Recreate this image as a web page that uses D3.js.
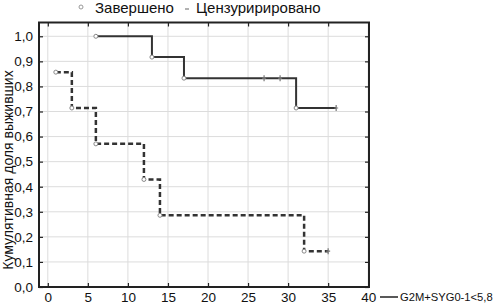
<!DOCTYPE html>
<html>
<head>
<meta charset="utf-8">
<script src="https://cdn.jsdelivr.net/npm/d3@7"></script>
<style>
  body { margin: 0; background: #fff; }
  svg { font-family: "Liberation Sans", Arial, sans-serif; }
</style>
</head>
<body>
<svg id="chart"></svg>
<script>
// survival curves (time in months, cumulative share)
const solidTimes  = [6, 13, 17, 31, 36]
const solidValues = [1.0, 0.917, 0.833, 0.714, 0.714]
const solidEvents = [[6, 1.0], [13, 0.917], [17, 0.833], [31, 0.714]]
const solidCensor = [[27, 0.833], [29, 0.833], [36, 0.714]]

const dashTimes  = [1, 3, 6, 12, 14, 32, 35]
const dashValues = [0.857, 0.714, 0.571, 0.429, 0.286, 0.143, 0.143]
const dashEvents = [[1, 0.857], [3, 0.714], [6, 0.571], [12, 0.429], [14, 0.286], [32, 0.143]]
const dashCensor = [[35, 0.143]]

const xTicks = [0, 5, 10, 15, 20, 25, 30, 35, 40]
const yTicks = [0, 0.1, 0.2, 0.3, 0.4, 0.5, 0.6, 0.7, 0.8, 0.9, 1.0]
const legendItems = ["Завершено", "Цензуририровано"]
const seriesLabel = "G2M+SYG0-1<5,8"
const yTitle = "Кумулятивная доля выживших"

function draw(){
    const width = 494, height = 305
    const svg = d3.select("#chart").attr("width", width).attr("height", height)

    const x = d3.scaleLinear().domain([-1.1, 40.1]).range([39, 369])
    const y = d3.scaleLinear().domain([0, 1.055]).range([287, 22.5])

    const fmt = d => d.toFixed(1).replace(".", ",")

    // grid
    const grid = svg.append("g").attr("stroke", "#dcdcdc").attr("stroke-width", 1)
    grid.selectAll("line.v").data(xTicks).enter().append("line")
        .attr("x1", d => x(d)).attr("x2", d => x(d))
        .attr("y1", y.range()[1]).attr("y2", y.range()[0])
    grid.selectAll("line.h").data(yTicks).enter().append("line")
        .attr("x1", x.range()[0]).attr("x2", x.range()[1])
        .attr("y1", d => y(d)).attr("y2", d => y(d))

    // frame
    svg.append("rect")
        .attr("x", x.range()[0]).attr("y", y.range()[1])
        .attr("width", x.range()[1] - x.range()[0])
        .attr("height", y.range()[0] - y.range()[1])
        .attr("fill", "none").attr("stroke", "#222").attr("stroke-width", 2)

    // axes
    const xAxis = svg.append("g").attr("transform", `translate(0,${y.range()[0]})`)
        .call(d3.axisBottom(x).tickValues(xTicks).tickSize(-4).tickPadding(5).tickFormat(d3.format("d")))
    const xTop = svg.append("g").attr("transform", `translate(0,${y.range()[1]})`)
        .call(d3.axisTop(x).tickValues(xTicks).tickSize(-4).tickFormat(""))
    const yAxis = svg.append("g").attr("transform", `translate(${x.range()[0]},0)`)
        .call(d3.axisLeft(y).tickValues(yTicks).tickSize(-4).tickPadding(6).tickFormat(fmt))
    const yRight = svg.append("g").attr("transform", `translate(${x.range()[1]},0)`)
        .call(d3.axisRight(y).tickValues(yTicks).tickSize(-4).tickFormat(""))

    for (const g of [xAxis, xTop, yAxis, yRight]) {
        g.select(".domain").remove()
        g.selectAll(".tick line").attr("stroke", "#222").attr("stroke-width", 1.2)
        g.selectAll("text").attr("font-size", 13.5).attr("fill", "#111")
            .attr("font-family", "'Liberation Sans', Arial, sans-serif")
    }

    // curves
    const step = d3.line().curve(d3.curveStepAfter).x(d => x(d[0])).y(d => y(d[1]))
    const solidPts = solidTimes.map((t, i) => [t, solidValues[i]])
    const dashPts = dashTimes.map((t, i) => [t, dashValues[i]])

    svg.append("path").datum(dashPts).attr("d", step)
        .attr("fill", "none").attr("stroke", "#333").attr("stroke-width", 2.5)
        .attr("stroke-dasharray", "5,3")
    svg.append("path").datum(solidPts).attr("d", step)
        .attr("fill", "none").attr("stroke", "#333").attr("stroke-width", 2)

    // markers
    const marks = svg.append("g")
    marks.selectAll("circle").data(solidEvents.concat(dashEvents)).enter().append("circle")
        .attr("cx", d => x(d[0])).attr("cy", d => y(d[1])).attr("r", 2)
        .attr("fill", "#fff").attr("stroke", "#888").attr("stroke-width", 1)
    marks.selectAll("path.cens").data(solidCensor.concat(dashCensor)).enter().append("path")
        .attr("class", "cens")
        .attr("d", d => `M${x(d[0])},${y(d[1]) - 3}V${y(d[1]) + 3}M${x(d[0]) - 2},${y(d[1])}H${x(d[0]) + 2}`)
        .attr("stroke", "#777").attr("stroke-width", 1.2)

    // y title
    svg.append("text")
        .attr("transform", `translate(13,170) rotate(-90)`)
        .attr("text-anchor", "middle").attr("font-size", 14).attr("fill", "#111")
        .text(yTitle)

    // top legend
    const leg = svg.append("g").attr("font-size", 15).attr("fill", "#111")
    leg.append("circle").attr("cx", 81).attr("cy", 7).attr("r", 2)
        .attr("fill", "#fff").attr("stroke", "#999")
    leg.append("text").attr("x", 95).attr("y", 13).text(legendItems[0])
    leg.append("line").attr("x1", 185).attr("x2", 189).attr("y1", 9).attr("y2", 9)
        .attr("stroke", "#999").attr("stroke-width", 1.5)
    leg.append("text").attr("x", 196).attr("y", 13).text(legendItems[1])

    // series legend
    svg.append("line").attr("x1", 380).attr("x2", 398).attr("y1", 297).attr("y2", 297)
        .attr("stroke", "#222").attr("stroke-width", 1.5)
    svg.append("text").attr("x", 400).attr("y", 301).attr("font-size", 11.2).attr("fill", "#111")
        .text(seriesLabel)
}

window.onload = function(){
    draw()
}
</script>
</body>
</html>
